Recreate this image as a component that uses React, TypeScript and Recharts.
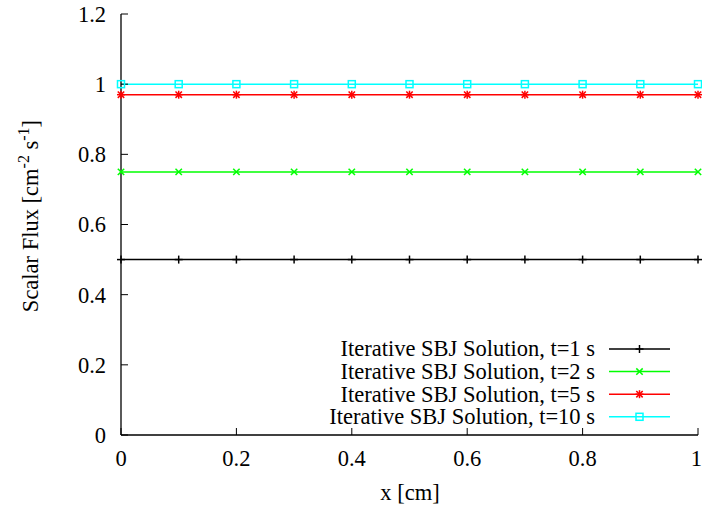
import React from 'react';
import { LineChart, Line, XAxis, YAxis, Legend } from 'recharts';

// positions along the slab [cm]
const xPositions = [0, 0.1, 0.2, 0.3, 0.4, 0.5, 0.6, 0.7, 0.8, 0.9, 1.0];
// scalar flux at each position for the four times
const fluxT1 = [0.5, 0.5, 0.5, 0.5, 0.5, 0.5, 0.5, 0.5, 0.5, 0.5, 0.5];
const fluxT2 = [0.75, 0.75, 0.75, 0.75, 0.75, 0.75, 0.75, 0.75, 0.75, 0.75, 0.75];
const fluxT5 = [0.97, 0.97, 0.97, 0.97, 0.97, 0.97, 0.97, 0.97, 0.97, 0.97, 0.97];
const fluxT10 = [1.0, 1.0, 1.0, 1.0, 1.0, 1.0, 1.0, 1.0, 1.0, 1.0, 1.0];

const xTicks = [0, 0.2, 0.4, 0.6, 0.8, 1];
const yTicks = [0, 0.2, 0.4, 0.6, 0.8, 1, 1.2];

const seriesNames = [
    'Iterative SBJ Solution, t=1 s',
    'Iterative SBJ Solution, t=2 s',
    'Iterative SBJ Solution, t=5 s',
    'Iterative SBJ Solution, t=10 s',
];

const data = xPositions.map((x, i) => ({
    x,
    t1: fluxT1[i],
    t2: fluxT2[i],
    t5: fluxT5[i],
    t10: fluxT10[i],
}));

const FONT = 'Liberation Serif';
const FS = 22.5;

type MarkerKind = 'plus' | 'cross' | 'star' | 'square';

const series: { key: string; color: string; marker: MarkerKind }[] = [
    { key: 't1', color: '#000000', marker: 'plus' },
    { key: 't2', color: '#00ff00', marker: 'cross' },
    { key: 't5', color: '#ff0000', marker: 'star' },
    { key: 't10', color: '#00ffff', marker: 'square' },
];

function Marker({ cx, cy, kind, color }: { cx: number; cy: number; kind: MarkerKind; color: string }) {
    const s = 4;
    const d = 3.2;
    const sw = 1.5;
    if (kind === 'plus') {
        return (
            <g stroke={color} strokeWidth={sw}>
                <line x1={cx - s} y1={cy} x2={cx + s} y2={cy} />
                <line x1={cx} y1={cy - s} x2={cx} y2={cy + s} />
            </g>
        );
    }
    if (kind === 'cross') {
        return (
            <g stroke={color} strokeWidth={sw}>
                <line x1={cx - d} y1={cy - d} x2={cx + d} y2={cy + d} />
                <line x1={cx - d} y1={cy + d} x2={cx + d} y2={cy - d} />
            </g>
        );
    }
    if (kind === 'star') {
        return (
            <g stroke={color} strokeWidth={sw}>
                <line x1={cx - s} y1={cy} x2={cx + s} y2={cy} />
                <line x1={cx} y1={cy - s} x2={cx} y2={cy + s} />
                <line x1={cx - d} y1={cy - d} x2={cx + d} y2={cy + d} />
                <line x1={cx - d} y1={cy + d} x2={cx + d} y2={cy - d} />
            </g>
        );
    }
    return (
        <rect x={cx - 3.5} y={cy - 3.5} width={7} height={7} fill="none" stroke={color} strokeWidth={sw} />
    );
}

const tickStyle = { fill: '#000', fontSize: FS, fontFamily: FONT };
const noLabel = () => <g />;

function YLabel() {
    return (
        <text
            transform="translate(37.5, 216) rotate(-90)"
            textAnchor="middle"
            fontFamily={FONT}
            fontSize={FS}
            fill="#000"
        >
            Scalar Flux [cm
            <tspan dy={-9} fontSize={16}>-2</tspan>
            <tspan dy={9}> s</tspan>
            <tspan dy={-9} fontSize={16}>-1</tspan>
            <tspan dy={9}>]</tspan>
        </text>
    );
}

function XLabel() {
    return (
        <text x={410} y={500} textAnchor="middle" fontFamily={FONT} fontSize={FS} fill="#000">
            x [cm]
        </text>
    );
}

function LegendBox({ payload }: any) {
    const rowGap = 22.6;
    const items = series.map((s, i) => {
        const p = (payload || []).find((q: any) => q.dataKey === s.key);
        return { ...s, label: p ? p.value : seriesNames[i] };
    });
    return (
        <svg width={390} height={100} style={{ display: 'block' }}>
            {items.map((s, i) => {
                const y = 14 + i * rowGap;
                return (
                    <g key={s.key}>
                        <text
                            x={295}
                            y={y}
                            dy="0.33em"
                            textAnchor="end"
                            fontFamily={FONT}
                            fontSize={FS}
                            fill="#000"
                        >
                            {s.label}
                        </text>
                        <line x1={309} y1={y} x2={370} y2={y} stroke={s.color} strokeWidth={1.5} />
                        <Marker cx={339.5} cy={y} kind={s.marker} color={s.color} />
                    </g>
                );
            })}
        </svg>
    );
}

export default function App() {
    return (
        <div
            style={{
                position: 'absolute',
                left: 0,
                top: 0,
                width: 702,
                height: 508,
                background: '#fff',
            }}
        >
            <LineChart
                width={702}
                height={508}
                data={data}
                margin={{ top: 14, right: 4, bottom: 33, left: 21 }}
            >
                <XAxis
                    dataKey="x"
                    type="number"
                    domain={[0, 1]}
                    ticks={xTicks}
                    height={40}
                    tickSize={-7}
                    tickMargin={22}
                    tick={tickStyle}
                    stroke="#000"
                    axisLine={{ stroke: '#000', strokeWidth: 1.3 }}
                    tickLine={{ stroke: '#000' }}
                    label={<XLabel />}
                />
                <XAxis
                    xAxisId="top"
                    orientation="top"
                    dataKey="x"
                    type="number"
                    domain={[0, 1]}
                    ticks={xTicks}
                    height={0}
                    tickSize={-7}
                    tick={noLabel}
                    axisLine={{ stroke: '#000', strokeWidth: 1.3 }}
                    tickLine={{ stroke: '#000' }}
                />
                <YAxis
                    type="number"
                    domain={[0, 1.2]}
                    ticks={yTicks}
                    width={100}
                    tickSize={-7}
                    tickMargin={22}
                    tick={tickStyle}
                    axisLine={{ stroke: '#000', strokeWidth: 1.3 }}
                    tickLine={{ stroke: '#000' }}
                    label={<YLabel />}
                />
                <YAxis
                    yAxisId="right"
                    orientation="right"
                    type="number"
                    domain={[0, 1.2]}
                    ticks={yTicks}
                    width={0}
                    tickSize={-7}
                    tick={noLabel}
                    axisLine={{ stroke: '#000', strokeWidth: 1.3 }}
                    tickLine={{ stroke: '#000' }}
                />
                {series.map((s, i) => (
                    <Line
                        key={s.key}
                        dataKey={s.key}
                        name={seriesNames[i]}
                        stroke={s.color}
                        strokeWidth={1.5}
                        isAnimationActive={false}
                        dot={(props: any) => (
                            <Marker
                                key={`${s.key}-${props.index}`}
                                cx={props.cx}
                                cy={props.cy}
                                kind={s.marker}
                                color={s.color}
                            />
                        )}
                        activeDot={false}
                    />
                ))}
                <Legend
                    layout="vertical"
                    align="center"
                    verticalAlign="middle"
                    content={<LegendBox />}
                    wrapperStyle={{ position: 'absolute', left: 300, top: 335, width: 390, height: 100 }}
                />
            </LineChart>
        </div>
    );
}
